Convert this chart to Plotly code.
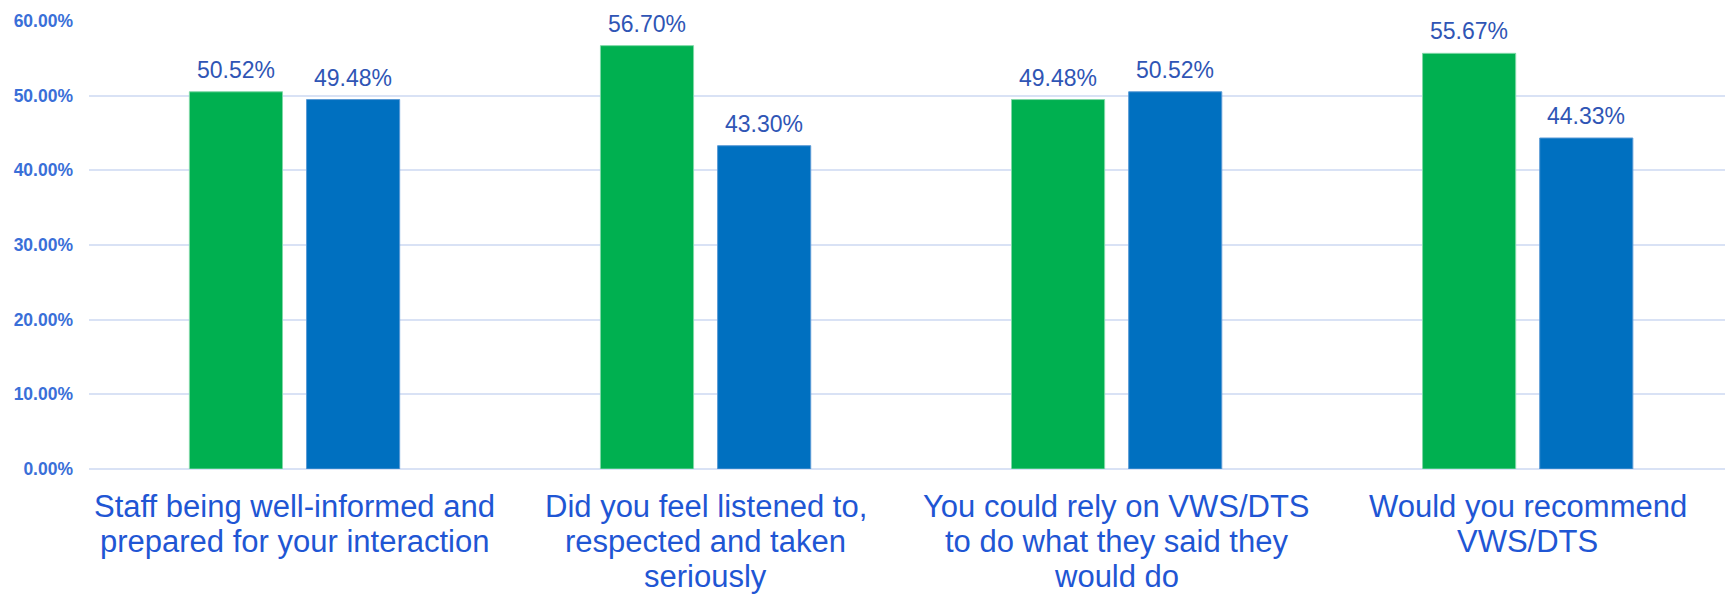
import plotly.graph_objects as go

categories = [
    "Staff being well-informed and<br>prepared for your interaction",
    "Did you feel listened to,<br>respected and taken<br>seriously",
    "You could rely on VWS/DTS<br>to do what they said they<br>would do",
    "Would you recommend<br>VWS/DTS",
]
green_vals = [0.5052, 0.5670, 0.4948, 0.5567]
blue_vals = [0.4948, 0.4330, 0.5052, 0.4433]
y_ticks = [0, 0.1, 0.2, 0.3, 0.4, 0.5, 0.6]

GREEN = "#00b050"
BLUE = "#0070c0"
LABEL_COLOR = "#2f55b5"
CAT_COLOR = "#1f56d4"
FONT = "Arial, Liberation Sans, sans-serif"

fig = go.Figure()
fig.add_trace(go.Bar(x=categories, y=green_vals, marker_color=GREEN,
                     marker_line=dict(color="#7fd8a7", width=1), name="Yes"))
fig.add_trace(go.Bar(x=categories, y=blue_vals, marker_color=BLUE,
                     marker_line=dict(color="#5a9ad6", width=1), name="No"))

# value labels above bars
for vals, shift in ((green_vals, -58.5), (blue_vals, 58.5)):
    for c, v in zip(categories, vals):
        fig.add_annotation(x=c, y=v, text=f"{v*100:.2f}%", showarrow=False,
                           xref="x", yref="y", xshift=shift, yanchor="bottom", yshift=7,
                           font=dict(family=FONT, size=23, color=LABEL_COLOR))

# category labels, one line at a time for tight line spacing
for c in categories:
    for i, line in enumerate(c.split("<br>")):
        fig.add_annotation(x=c, y=0, text=line, showarrow=False, xref="x", yref="y",
                           yanchor="middle", yshift=-(37 + 35 * i),
                           font=dict(family=FONT, size=31, color=CAT_COLOR))

fig.update_layout(
    width=1725, height=594,
    margin=dict(l=89, r=0, t=21, b=125),
    paper_bgcolor="white", plot_bgcolor="white",
    showlegend=False,
    barmode="group", bargap=0.43, bargroupgap=0.205,
    font=dict(family=FONT),
)
fig.update_xaxes(range=[-0.5, 3.48], showticklabels=False,
                 showgrid=False, showline=False, ticks="", automargin=False)
fig.update_yaxes(range=[0, 0.6], tickvals=y_ticks,
                 ticktext=[f"{t*100:.2f}%" for t in y_ticks],
                 tickfont=dict(size=17.5, color="#3a6fd8", family=FONT, weight="bold"),
                 showgrid=True, gridcolor="#d9e2f5", gridwidth=1.5,
                 zeroline=True, zerolinecolor="#d9e2f5", zerolinewidth=1.5,
                 ticklabelstandoff=15, automargin=False)

fig.write_html("out.html", config={"displayModeBar": False},
               post_script="document.body.style.margin='0';document.body.style.overflow='hidden';")
